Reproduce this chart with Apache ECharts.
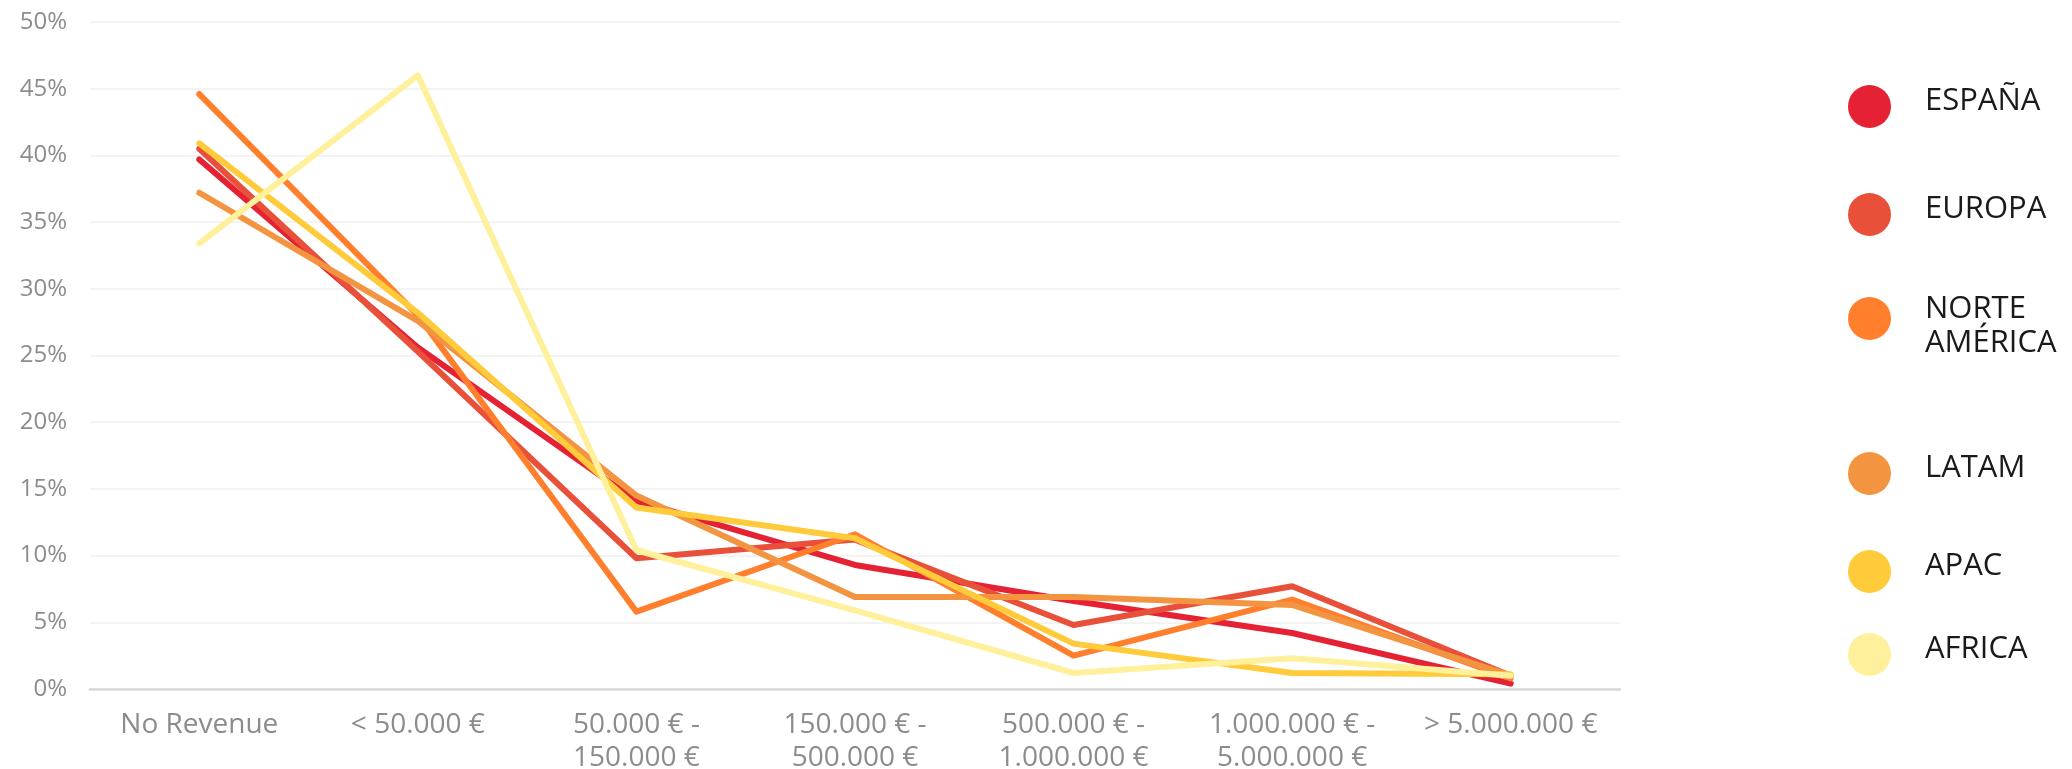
<!DOCTYPE html>
<html>
<head>
<meta charset="utf-8">
<script src="https://cdn.jsdelivr.net/npm/echarts@6/dist/echarts.min.js"></script>
<style>
html,body{margin:0;padding:0;background:#fff;}
#chart{width:2072px;height:769px;}
</style>
</head>
<body>
<div id="chart"></div>
<script>
const categories = ['No Revenue', '< 50.000 €', '50.000 € -\n150.000 €', '150.000 € -\n500.000 €', '500.000 € -\n1.000.000 €', '1.000.000 € -\n5.000.000 €', '> 5.000.000 €'];
const seriesNames = ['ESPAÑA', 'EUROPA', 'NORTE AMÉRICA', 'LATAM', 'APAC', 'AFRICA'];
const espana = [39.7, 25.6, 14.1, 9.3, 6.6, 4.2, 0.4];
const europa = [40.5, 25.3, 9.8, 11.2, 4.8, 7.7, 1.0];
const norteAmerica = [44.6, 28.0, 5.8, 11.6, 2.5, 6.7, 0.8];
const latam = [37.2, 27.6, 14.5, 6.9, 6.9, 6.3, 1.0];
const apac = [40.9, 28.2, 13.6, 11.3, 3.4, 1.2, 1.1];
const africa = [33.4, 46.0, 10.4, 5.9, 1.2, 2.3, 1.0];
const yTicks = { min: 0, max: 50, interval: 5 };

const colors = ['#E52233', '#E8503A', '#FF7F2D', '#F39440', '#FFCB3A', '#FFF09B'];
const values = [espana, europa, norteAmerica, latam, apac, africa];
const FONT = '"Open Sans", sans-serif';

// circle centres (px) of each legend entry
const legendCentres = [107, 215, 326, 474, 572, 655];
const legends = seriesNames.map((n, i) => {
  const twoLine = n === 'NORTE AMÉRICA';
  return {
    data: [n],
    left: 1848,
    top: twoLine ? legendCentres[i] - 42 : legendCentres[i] - 22,
    padding: 0,
    orient: 'vertical',
    icon: 'circle',
    itemWidth: 43,
    itemHeight: 43,
    selectedMode: false,
    formatter: twoLine ? '{s| }\n{a|NORTE}\n{a|AMÉRICA}' : '{a|{name}}\n{e| }',
    textStyle: {
      fontFamily: FONT,
      fontSize: 31,
      color: '#1a1a1a',
      padding: [0, 0, 0, 29],
      rich: {
        a: { fontFamily: FONT, fontSize: 31, lineHeight: 34, color: '#1a1a1a' },
        e: { fontSize: 1, lineHeight: 10 },
        s: { fontSize: 1, lineHeight: 16 }
      }
    }
  };
});

const chart = echarts.init(document.getElementById('chart'), null, { renderer: 'canvas' });
chart.setOption({
  backgroundColor: '#ffffff',
  animation: false,
  legend: legends,
  grid: { left: 90, right: 452, top: 22, bottom: 80, containLabel: false, outerBoundsMode: 'none' },
  xAxis: {
    type: 'category',
    data: categories,
    boundaryGap: true,
    axisTick: { show: false },
    axisLine: { lineStyle: { color: '#d9d9d9', width: 2.5 } },
    axisLabel: {
      interval: 0,
      margin: 20,
      color: '#8c8c8c',
      fontFamily: FONT,
      fontSize: 28,
      lineHeight: 33
    }
  },
  yAxis: {
    type: 'value',
    min: yTicks.min,
    max: yTicks.max,
    interval: yTicks.interval,
    axisLine: { show: false },
    axisTick: { show: false },
    splitLine: { lineStyle: { color: '#efefef', width: 1.5 } },
    axisLabel: {
      margin: 23,
      color: '#8c8c8c',
      fontFamily: FONT,
      fontSize: 24,
      formatter: '{value}%'
    }
  },
  series: seriesNames.map((n, i) => ({
    name: n,
    type: 'line',
    data: values[i],
    symbol: 'none',
    smooth: false,
    itemStyle: { color: colors[i] },
    lineStyle: { color: colors[i], width: 6, cap: 'round', join: 'round' }
  }))
});
</script>
</body>
</html>
